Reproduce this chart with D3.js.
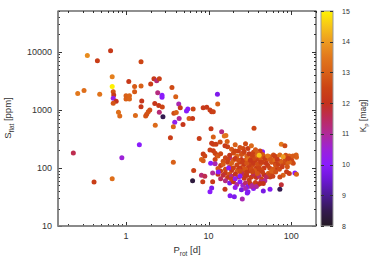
<!DOCTYPE html>
<html>
<head>
<meta charset="utf-8">
<script src="https://cdn.jsdelivr.net/npm/d3@7"></script>
<style>
  body { margin: 0; background: #fff; }
  text { font-family: "Liberation Sans", Arial, sans-serif; fill: #333; }
</style>
</head>
<body>
<div id="chart"></div>
<script>
// each row: [P_rot (d), S_flat (ppm), Kp (mag)]
var fastRotators = [
  [0.23,180,11.6],[0.26,1900,13.5],[0.31,2150,13.3],[0.34,8600,13.8],[0.41,57,12.3],
  [0.45,7000,12.3],[0.48,1850,13.4],[0.65,10400,12.2],[0.68,3700,13.6],[0.68,65,13.3],
  [0.70,2050,12.8],[0.71,1800,12.2],[0.70,1570,10.3],[0.76,1400,12.0],[0.70,1300,12.8],
  [0.81,910,13.3],[0.84,780,13.2],[0.89,150,10.5],[1.00,1750,13.0],[1.10,1750,13.1],
  [1.00,1530,13.0],[1.10,1530,13.1],[1.08,3050,12.2],[1.27,2500,12.9],[1.27,2050,12.9],
  [1.30,800,13.2],[0.68,2500,15.0]
];

var midPeriod = [
  [1.45,250,10.0],[1.52,6700,12.5],[1.52,2550,13.0],[1.55,1420,12.1],[1.52,1130,12.2],
  [1.73,780,12.8],[1.78,840,12.7],[1.86,920,12.8],[1.94,990,12.7],[1.99,2780,12.3],
  [2.18,3400,12.2],[2.35,3150,11.3],[2.53,3400,12.4],[2.42,1970,11.2],[2.73,1780,10.0],
  [2.73,1640,10.0],[2.23,1280,12.1],[2.49,1180,12.2],[2.75,1120,12.5],[2.53,910,11.3],
  [2.80,760,8.5],[2.26,540,13.2],[3.45,330,12.3],[3.6,2420,12.6],[3.74,125,13.0],
  [4.0,1670,13.0],[4.35,1260,10.8],[4.54,1080,12.2],[3.8,870,12.6],[4.06,900,13.0],
  [4.4,710,11.0],[3.89,610,10.2],[3.74,510,13.1],[4.9,560,12.1],[5.4,950,10.0],
  [5.6,1030,10.0],[6.5,1030,12.5],[5.8,710,13.0],[6.4,710,12.2],[6.6,90,12.4],
  [6.4,60,8.3],[7.7,320,12.3],[8.2,140,13.1],[8.6,132,12.9],[8.6,1080,12.2],
  [9.5,1100,12.2],[8.6,173,12.3],[9.0,160,12.5],[8.2,75,11.3],[9.0,72,11.6],[8.5,58,12.3]
];

var slowEdge = [
  [10.4,990,12.3],[10.9,920,12.2],[11.4,920,12.4],[12.8,1850,9.8],[12.9,1260,13.0],
  [10.7,470,12.2],[14.4,420,11.2],[35.5,480,12.5],[11.4,340,13.0],[16.2,360,13.4],
  [15.5,355,13.4],[13.8,280,12.6],[12.3,255,12.3],[11.4,255,12.4],[10.9,265,12.2],
  [15.8,240,12.2],[16.8,283,13.0],[10.4,203,12.4],[11.4,198,12.3],[12.6,167,12.2],
  [12.0,178,12.5],[18.2,146,11.2],[26.3,215,12.6],[25.9,178,12.3],[76,255,13.5],
  [84,240,12.6],[45,190,10.0],[48,155,13.0],[55,155,13.0],[61,167,12.7],
  [67,155,13.0],[73,167,13.2],[95,160,13.0],[115,167,13.0],[116,152,13.0],
  [102,133,12.7],[106,120,12.6],[88,120,13.0],[80,120,12.6],[64,120,12.3],
  [111,82,10.0],[116,78,13.0],[95,80,12.3],[88,86,12.3],[80,75,13.0],
  [73,70,12.6],[61,86,13.0],[67,100,12.2],[72,95,12.6],[55.5,70,12.3],
  [53,81,13.0],[76,51,11.8]
];

var slowCore = [
  [17,230,12.4],[19,210,12.8],[21,250,13.0],[23,195,12.3],[20,180,12.6],[18,165,12.2],
  [16,150,12.5],[22,160,13.1],[25,170,12.7],[27,190,12.4],[29,160,13.0],[31,175,12.2],
  [33,150,12.8],[35,185,12.5],[38,160,13.2],[40,140,12.4],[43,150,12.9],[36,130,12.3],
  [32,120,12.6],[28,135,12.9],[24,125,12.4],[20,135,13.0],[17,125,12.3],[15,130,12.7],
  [14,110,12.2],[18,105,12.8],[22,112,12.5],[26,105,13.1],[30,100,12.4],[34,110,12.7],
  [38,100,12.3],[42,115,12.9],[46,125,12.5],[50,135,13.0],[52,110,12.4],[58,125,12.8],
  [62,140,13.3],[47,100,12.2],[44,92,12.6],[40,85,12.3],[36,90,12.9],[31,88,12.2],
  [27,92,12.7],[23,95,12.4],[19,90,12.1],[16,95,12.6],[14,88,12.3],[13,98,12.8],
  [12,140,12.5],[13,160,12.9],[25,140,12.1],[30,140,13.4],[35,145,12.6],[27,115,12.2],
  [45,170,12.8],[48,145,12.3],[55,100,12.5],[65,110,12.7],[60,95,12.9],[70,115,12.4],
  [75,130,13.0],[85,140,12.6],[90,105,12.8],[100,145,12.5],[78,105,12.3],[95,125,13.1],
  [68,140,12.2],[52,160,13.5],[37,205,12.9],[30,215,12.3],[24,225,12.7],[42,195,12.4],
  [28,260,12.6],[33,240,13.2],
  [16,82,12.3],[18,78,12.7],[20,100,12.4],[22,86,12.9],[24,100,12.2],[26,78,12.5],
  [28,96,12.8],[31,110,12.3],[33,95,12.6],[35,120,12.2],[37,72,12.4],[39,115,12.7],
  [41,100,12.5],[43,125,12.3],[15,115,12.9],[17,140,12.4],[19,120,13.0],[21,145,12.2],
  [23,135,12.6],[26,125,12.3],[29,120,12.8],[32,135,12.1],[34,165,12.4],[39,180,13.0],
  [21,195,12.5],[14,175,12.6],[50,120,12.2],[56,140,12.9],[63,160,12.4],[86,165,12.7],
  [92,145,12.3],[105,160,12.9]
];

var slowLower = [
  [15,75,11.8],[17,68,12.2],[19,72,11.2],[21,78,12.0],[23,70,12.4],[25,80,11.5],
  [27,66,12.2],[29,74,12.1],[31,62,12.3],[33,70,12.3],[35,78,11.6],[38,68,12.1],
  [41,72,11.3],[44,64,12.4],[47,76,12.0],[50,70,11.5],[16,60,11.2],[18,55,9.8],
  [20,58,12.0],[22,52,11.0],[24,58,10.0],[26,50,10.6],[28,55,11.4],[30,48,9.9],
  [32,54,12.2],[34,50,11.1],[37,56,12.4],[40,52,12.0],[43,58,11.2],[21,46,10.2],
  [25,42,9.7],[28,44,10.8],[35,44,10.1],[19,64,12.4],[24,88,12.6],[29,84,12.2],
  [34,86,12.5],[39,80,12.8],[45,84,12.3],[55,78,12.6],[60,72,12.4],[58,88,13.0],
  [65,85,12.7],[48,60,11.0],[14,65,11.5],[13,78,12.0],
  [10.6,120,10.0],[12.0,118,10.8],[11.2,82,11.0],[13.1,85,10.0],[11.2,58,12.2],
  [10.9,45,9.8],[10.4,39,10.0],[15.8,43,12.1],[18.2,33,9.9],[20.5,32,9.8],
  [25.6,29,10.8],[29.4,37,9.9],[30,39,9.9],[73,43,8.5],[55.5,43,9.9],[46,40,9.7],
  [38,48,11.0],[33,48,11.0],[42,54,12.0],[46,54,12.0],[17.5,100,10.0],[24,72,10.0],
  [21,65,10.2],[41,165,14.5],[80,155,14.0]
];

var xTickLabels = [1, 10, 100];
var yTickLabels = [10, 100, 1000, 10000];
var kpTicks = [8, 9, 10, 11, 12, 13, 14, 15];

var width = 380, height = 266;
var plot = { left: 58, right: 316, top: 11, bottom: 226 };
var bar = { x: 321, w: 12 };

var points = fastRotators.concat(midPeriod, slowEdge, slowCore, slowLower);

var svg = d3.select('#chart').append('svg')
  .attr('width', width)
  .attr('height', height);

var x = d3.scaleLog().domain([0.15, 200]).range([plot.left, plot.right]);
var y = d3.scaleLog().domain([10, 50000]).range([plot.bottom, plot.top]);

var colour = d3.scaleLinear()
  .domain([8, 8.5, 9, 9.5, 10, 10.5, 11, 11.5, 12, 12.5, 13, 13.5, 14, 14.5, 15])
  .range(['#241a24', '#341a50', '#4c1a94', '#6c18d4', '#8a1cfc', '#9c22d8', '#b02a98',
          '#bc2c5c', '#c4321c', '#cc4414', '#d86018', '#e2781c', '#ec9a20', '#f6c418', '#fff200'])
  .clamp(true);

function isDecade(t) {
  var l = Math.log10(t);
  return Math.abs(l - Math.round(l)) < 1e-6;
}

// points
svg.append('g')
  .selectAll('circle')
  .data(points)
  .enter()
  .append('circle')
  .attr('cx', function(d) { return x(d[0]); })
  .attr('cy', function(d) { return y(d[1]); })
  .attr('r', 2.5)
  .style('fill', function(d) { return colour(d[2]); });

// mirrored gnuplot-style ticks
var ticks = svg.append('g').attr('stroke', '#333').attr('stroke-width', 1);
x.ticks().forEach(function(t) {
  var len = isDecade(t) ? 4 : 2;
  var px = Math.round(x(t)) + 0.5;
  ticks.append('line').attr('x1', px).attr('x2', px).attr('y1', plot.bottom).attr('y2', plot.bottom - len);
  ticks.append('line').attr('x1', px).attr('x2', px).attr('y1', plot.top).attr('y2', plot.top + len);
});
y.ticks().forEach(function(t) {
  var len = isDecade(t) ? 4 : 2;
  var py = Math.round(y(t)) + 0.5;
  ticks.append('line').attr('y1', py).attr('y2', py).attr('x1', plot.left).attr('x2', plot.left + len);
  ticks.append('line').attr('y1', py).attr('y2', py).attr('x1', plot.right).attr('x2', plot.right - len);
});

// border
svg.append('rect')
  .attr('x', plot.left).attr('y', plot.top)
  .attr('width', plot.right - plot.left).attr('height', plot.bottom - plot.top)
  .attr('fill', 'none').attr('stroke', '#222').attr('stroke-width', 1);
svg.append('path')
  .attr('d', 'M' + plot.left + ',' + plot.top + 'V' + plot.bottom + 'H' + plot.right)
  .attr('fill', 'none').attr('stroke', '#888').attr('stroke-width', 1.5);

// tick labels
svg.append('g').selectAll('text')
  .data(xTickLabels).enter().append('text')
  .attr('x', function(d) { return x(d); })
  .attr('y', 238.5)
  .attr('text-anchor', 'middle')
  .style('font-size', '9px')
  .text(function(d) { return d; });

svg.append('g').selectAll('text')
  .data(yTickLabels).enter().append('text')
  .attr('x', 52)
  .attr('y', function(d) { return y(d) + 3.2; })
  .attr('text-anchor', 'end')
  .style('font-size', '9px')
  .text(function(d) { return d; });

// axis titles
var xt = svg.append('text')
  .attr('x', 187).attr('y', 253)
  .attr('text-anchor', 'middle')
  .style('font-size', '9.5px');
xt.append('tspan').text('P');
xt.append('tspan').attr('dy', 2.5).style('font-size', '6.5px').text('rot');
xt.append('tspan').attr('dy', -2.5).text(' [d]');

var yt = svg.append('text')
  .attr('transform', 'translate(11,118) rotate(-90)')
  .attr('text-anchor', 'middle')
  .style('font-size', '9.5px');
yt.append('tspan').text('S');
yt.append('tspan').attr('dy', 2.5).style('font-size', '6.5px').text('flat');
yt.append('tspan').attr('dy', -2.5).text(' [ppm]');

// colour bar
var kpScale = d3.scaleLinear().domain([8, 15]).range([plot.bottom, plot.top]);
var grad = svg.append('defs').append('linearGradient')
  .attr('id', 'kpgrad')
  .attr('x1', 0).attr('y1', 1).attr('x2', 0).attr('y2', 0);
grad.selectAll('stop')
  .data(colour.domain())
  .enter().append('stop')
  .attr('offset', function(d) { return (d - 8) / 7; })
  .attr('stop-color', function(d) { return colour(d); });

svg.append('rect')
  .attr('x', bar.x).attr('y', plot.top)
  .attr('width', bar.w).attr('height', plot.bottom - plot.top)
  .attr('fill', 'url(#kpgrad)')
  .attr('stroke', '#999').attr('stroke-width', 1);

var barTicks = svg.append('g').attr('stroke', '#333').attr('stroke-width', 1);
kpTicks.forEach(function(k) {
  var py = Math.round(kpScale(k)) + 0.5;
  barTicks.append('line').attr('x1', bar.x).attr('x2', bar.x + 3).attr('y1', py).attr('y2', py);
  barTicks.append('line').attr('x1', bar.x + bar.w).attr('x2', bar.x + bar.w - 3).attr('y1', py).attr('y2', py);
});

svg.append('g').selectAll('text')
  .data(kpTicks).enter().append('text')
  .attr('x', 342)
  .attr('y', function(d) { return kpScale(d) + 2.5; })
  .style('font-size', '7px')
  .text(function(d) { return d; });

var ct = svg.append('text')
  .attr('transform', 'translate(366,116) rotate(-90)')
  .attr('text-anchor', 'middle')
  .style('font-size', '8.5px');
ct.append('tspan').text('K');
ct.append('tspan').attr('dy', 2.2).style('font-size', '6px').text('p');
ct.append('tspan').attr('dy', -2.2).text(' [mag]');
</script>
</body>
</html>
